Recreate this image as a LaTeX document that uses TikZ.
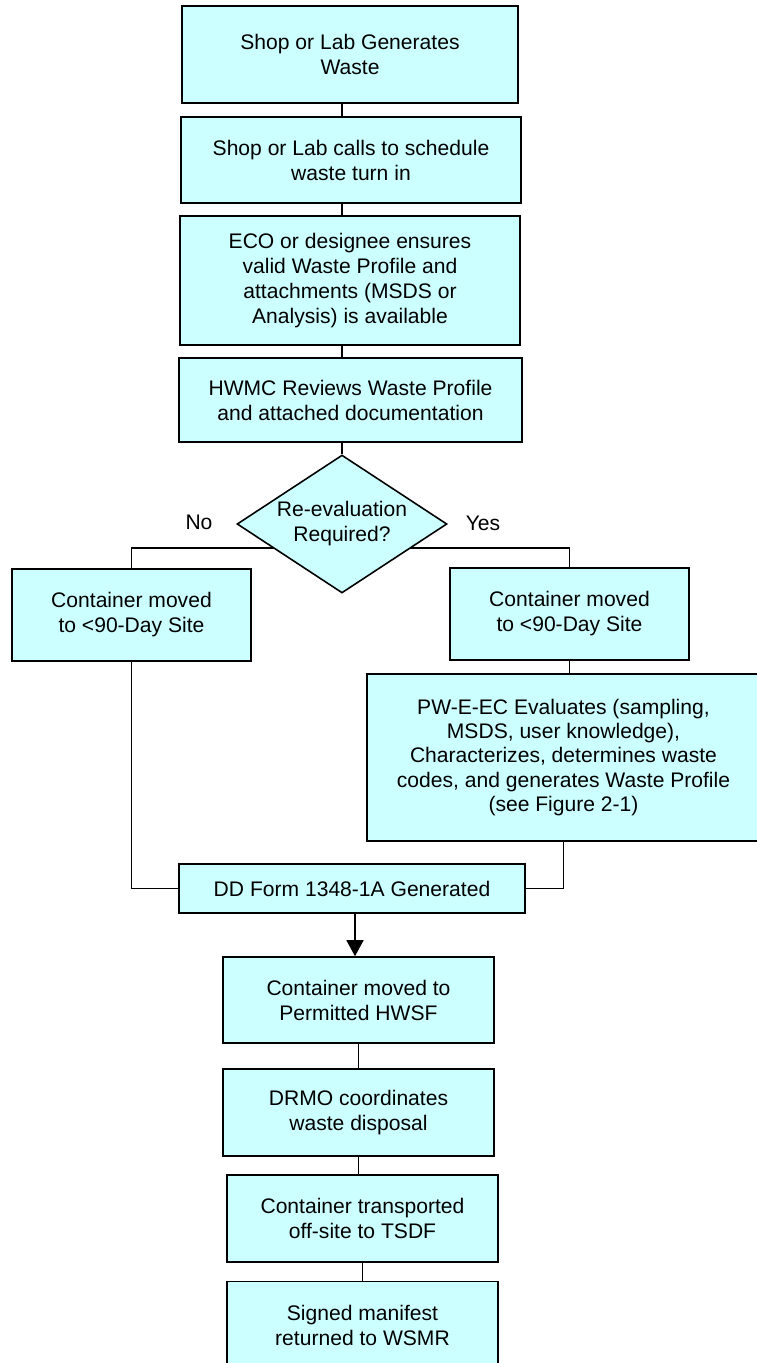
\documentclass[tikz,border=0pt]{standalone}
\usepackage{fontspec}
\setmainfont{Liberation Sans}
\usetikzlibrary{shapes.geometric,arrows.meta,backgrounds,calc}
\definecolor{boxcyan}{RGB}{204,255,255}
\tikzset{
  box/.style={draw, fill=boxcyan, line width=0.9pt, align=center, inner sep=0pt,
    font=\fontsize{12}{14.2}\selectfont},
  decision/.style={diamond, draw, fill=boxcyan, line width=0.9pt, align=center,
    inner sep=0pt, shape aspect=1.52, minimum width=4.2cm, minimum height=2.76cm,
    font=\fontsize{12}{14.2}\selectfont},
  link/.style={line width=0.9pt},
}
\begin{document}
\begin{tikzpicture}[x=0.02cm, y=-0.02cm]
  \clip (0,0) rectangle (757,1363);

  % Anlieferung des Abfalls
  \node[box, minimum width=6.72cm, minimum height=1.94cm] (gen) at (350,54.5)
    {Shop or Lab Generates\\Waste};
  \node[box, minimum width=6.8cm, minimum height=1.72cm] (call) at (351,160)
    {Shop or Lab calls to schedule\\waste turn in};
  \node[box, minimum width=6.8cm, minimum height=2.58cm] (eco) at (350,280.5)
    {ECO or designee ensures\\valid Waste Profile and\\attachments (MSDS or\\Analysis) is available};
  \node[box, minimum width=6.86cm, minimum height=1.68cm] (hwmc) at (350.5,400)
    {HWMC Reviews Waste Profile\\and attached documentation};

  % Entscheidung
  \node[decision] (reeval) at (342,524) {Re-evaluation\\Required?};
  \node[font=\fontsize{12}{14.2}\selectfont] (no) at (199,522) {No};
  \node[font=\fontsize{12}{14.2}\selectfont] (yes) at (483,523) {Yes};
  \coordinate (split) at (342,548);

  % Zweige
  \node[box, minimum width=4.78cm, minimum height=1.84cm] (siteno) at (131.5,615)
    {Container moved\\to <90-Day Site};
  \node[box, minimum width=4.78cm, minimum height=1.84cm] (siteyes) at (569.5,614)
    {Container moved\\to <90-Day Site};
  \node[box, minimum width=7.86cm, minimum height=3.34cm,
    font=\fontsize{12}{13.8}\selectfont] (pwe) at (563.5,757.5)
    {PW-E-EC Evaluates (sampling,\\MSDS, user knowledge),\\Characterizes, determines waste\\codes, and generates Waste Profile\\(see Figure 2-1)};

  % Formular und Entsorgung
  \node[box, minimum width=6.92cm, minimum height=0.98cm] (form) at (352,888.5)
    {DD Form 1348-1A Generated};
  \coordinate (formout) at ($(form.south)+(3,0)$);
  \node[box, minimum width=5.42cm, minimum height=1.72cm] (hwsf) at (358.5,1000)
    {Container moved to\\Permitted HWSF};
  \node[box, minimum width=5.42cm, minimum height=1.74cm] (drmo) at (358.5,1112.5)
    {DRMO coordinates\\waste disposal};
  \node[box, minimum width=5.42cm, minimum height=1.74cm] (tsdf) at (362.5,1218.5)
    {Container transported\\off-site to TSDF};
  \node[box, minimum width=5.42cm, minimum height=1.74cm] (wsmr) at (362.5,1325)
    {Signed manifest\\returned to WSMR};

  % Verbindungen
  \begin{scope}[on background layer]
    \draw[link] (gen.south -| reeval) -- (call.north -| reeval);
    \draw[link] (call.south -| reeval) -- (eco.north -| reeval);
    \draw[link] (eco.south -| reeval) -- (hwmc.north -| reeval);
    \draw[link] (hwmc.south -| reeval) -- (reeval.north);
    \draw[link] (siteno.north) |- (split) -| (siteyes.north);
    \draw[link] (siteyes.south) -- (siteyes.south |- pwe.north);
    \draw[link] (pwe.south) |- (form.east);
    \draw[link] (siteno.south) |- (form.west);
    \draw[link, -{Triangle[length=0.32cm, width=0.34cm]}]
      (formout) -- (formout |- hwsf.north);
    \draw[link] (hwsf.south) -- (drmo.north);
    \draw[link] (drmo.south) -- (tsdf.north -| drmo);
    \draw[link] (tsdf.south) -- (wsmr.north);
  \end{scope}
\end{tikzpicture}
\end{document}
